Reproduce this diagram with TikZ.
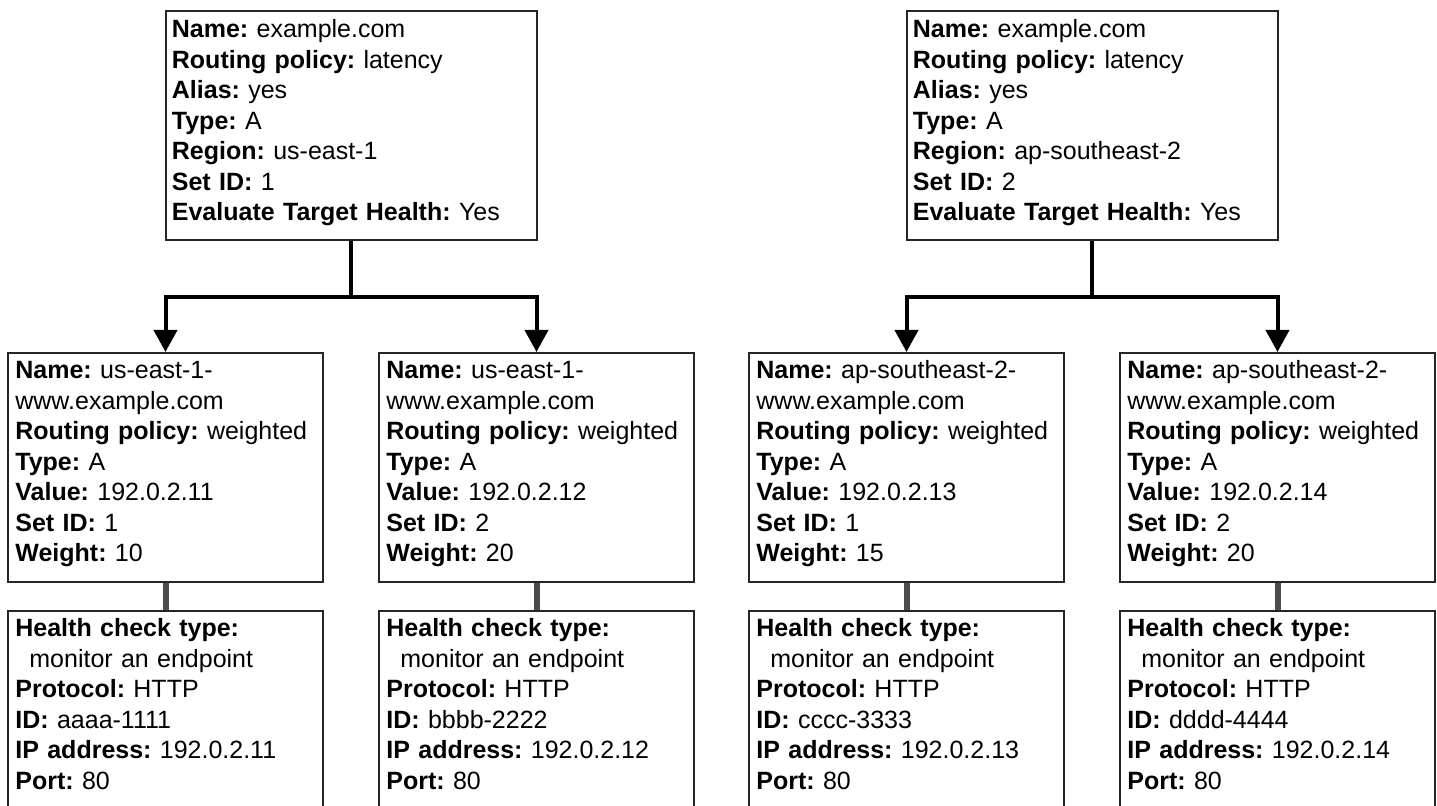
\documentclass[tikz,border=0pt]{standalone}
\usepackage{fontspec}
\setmainfont{Liberation Sans}
\usetikzlibrary{arrows.meta,positioning}
\frenchspacing

\begin{document}
\begin{tikzpicture}[x=0.5pt,y=-0.5pt,
    rec/.style={draw=black!85, line width=1pt, inner sep=0pt, minimum height=114.5pt, anchor=north},
    latbox/.style={rec, minimum width=185.5pt},
    wbox/.style={rec, minimum width=157.5pt},
    info/.style={anchor=base west, align=left, text width=180pt, inner sep=0pt,
                 font=\fontsize{12.5pt}{15.25pt}\selectfont},
    link/.style={line width=2pt, line join=miter, -{Triangle[length=11pt,width=11.5pt]}},
    hcline/.style={draw=black!70, line width=3pt}]
    %
    \useasboundingbox (0,0) rectangle (1437,806);
    \clip (0,0) rectangle (1437,806);

    % latency records
    \node[latbox] (lat1) at (351,10) {};
    \node[latbox] (lat2) at (1092,10) {};
    \node[info] (lat1txt) at ([shift={(7,28)}]lat1.north west) {%
        \textbf{Name:} example.com\\
        \textbf{Routing policy:} latency\\
        \textbf{Alias:} yes\\
        \textbf{Type:} A\\
        \textbf{Region:} us-east-1\\
        \textbf{Set ID:} 1\\
        \textbf{Evaluate Target Health:} Yes};
    \node[info] (lat2txt) at ([shift={(7,28)}]lat2.north west) {%
        \textbf{Name:} example.com\\
        \textbf{Routing policy:} latency\\
        \textbf{Alias:} yes\\
        \textbf{Type:} A\\
        \textbf{Region:} ap-southeast-2\\
        \textbf{Set ID:} 2\\
        \textbf{Evaluate Target Health:} Yes};

    % weighted records and health checks
    \foreach \i/\x/\reg/\ip/\sid/\wt/\hid in {%
        1/165.5/us-east-1/11/1/10/aaaa-1111,
        2/536.5/us-east-1/12/2/20/bbbb-2222,
        3/906.5/ap-southeast-2/13/1/15/cccc-3333,
        4/1277.5/ap-southeast-2/14/2/20/dddd-4444} {
        \node[wbox] (w\i) at (\x,352) {};
        \node[info] (w\i txt) at ([shift={(8,27)}]w\i.north west) {%
            \textbf{Name:} \reg-\\
            www.example.com\\
            \textbf{Routing policy:} weighted\\
            \textbf{Type:} A\\
            \textbf{Value:} 192.0.2.\ip\\
            \textbf{Set ID:} \sid\\
            \textbf{Weight:} \wt};
        \node[wbox] (h\i) at (\x,610) {};
        \node[info] (h\i txt) at ([shift={(8,27)}]h\i.north west) {%
            \textbf{Health check type:}\\
            \hspace*{7pt}monitor an endpoint\\
            \textbf{Protocol:} HTTP\\
            \textbf{ID:} \hid\\
            \textbf{IP address:} 192.0.2.\ip\\
            \textbf{Port:} 80};
    }

    % arrows
    \coordinate (j1) at ([yshift=-28pt]lat1.south);
    \coordinate (j2) at ([yshift=-28pt]lat2.south);
    \draw[link] (lat1.south) -- (j1) -| (w1.north);
    \draw[link] (j1) -| (w2.north);
    \draw[link] (lat2.south) -- (j2) -| (w3.north);
    \draw[link] (j2) -| (w4.north);

    \foreach \i in {1,...,4}
        \draw[hcline] (w\i.south) -- (h\i.north);
\end{tikzpicture}
\end{document}
